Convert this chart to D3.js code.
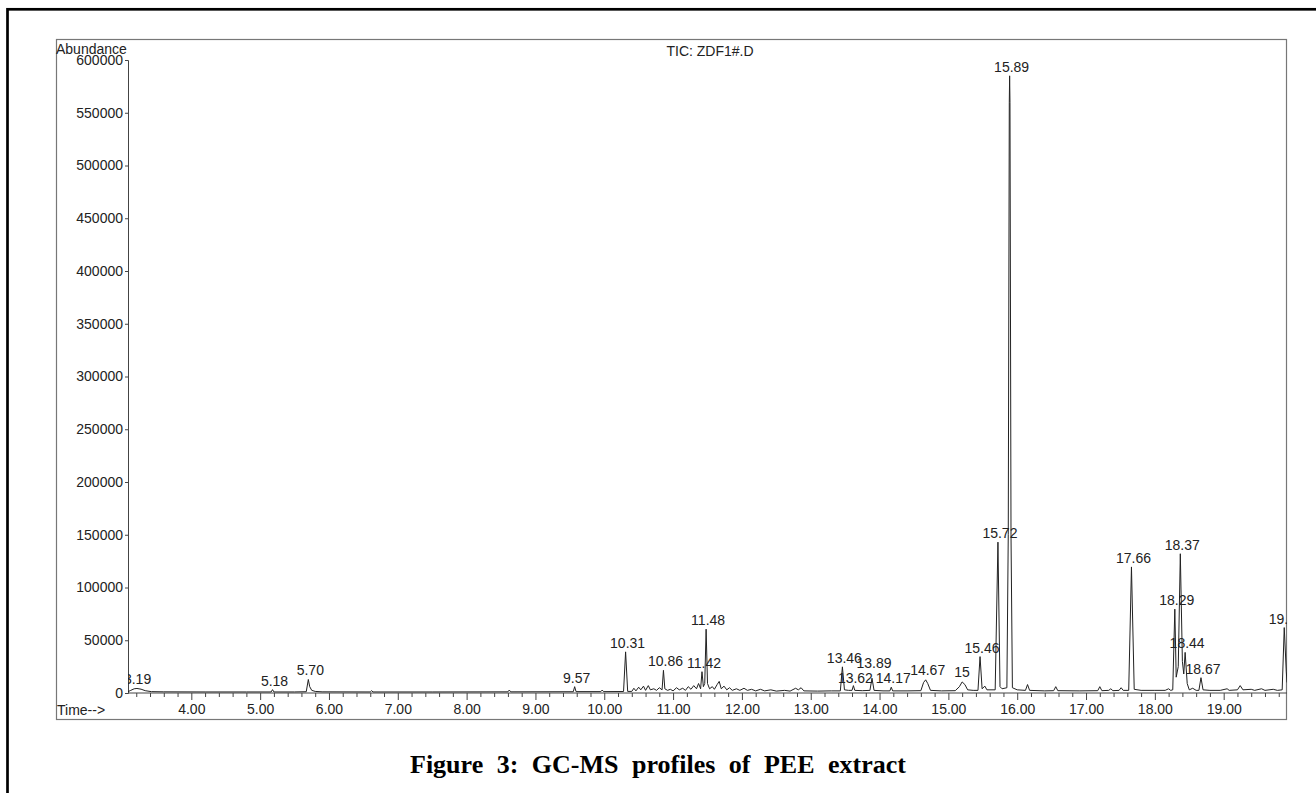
<!DOCTYPE html>
<html>
<head>
<meta charset="utf-8">
<script src="https://cdn.jsdelivr.net/npm/d3@7"></script>
<style>
  body { margin: 0; background: #fff; }
  text { font-family: Arial, "Liberation Sans", sans-serif; }
</style>
</head>
<body>
<div id="chart-area"></div>
<script>
/*
*    GC-MS total ion chromatogram
*/

// x ticks (minutes) and y ticks (abundance)
var timeTicks = [4, 5, 6, 7, 8, 9, 10, 11, 12, 13, 14, 15, 16, 17, 18, 19];
var abundTicks = [0, 50000, 100000, 150000, 200000, 250000, 300000, 350000,
  400000, 450000, 500000, 550000, 600000];

// trace: [time, abundance]
var trace = [
  [3.08, 1200], [3.12, 2500], [3.17, 4000], [3.21, 4300], [3.27, 3600], [3.33, 2200],
  [3.42, 1300], [3.60, 1100], [4.20, 1000], [4.80, 1000], [5.16, 1000], [5.18, 3200],
  [5.20, 1000], [5.50, 1000], [5.67, 1200], [5.70, 12800], [5.72, 6000], [5.75, 2500],
  [5.80, 1500], [5.90, 1100], [6.60, 1000], [6.62, 2200], [6.64, 1000], [7.50, 1000],
  [8.60, 1100], [8.62, 2800], [8.64, 1100], [9.55, 1200], [9.57, 6000], [9.59, 1300],
  [9.95, 1300], [9.97, 2800], [9.99, 1300], [10.28, 1400], [10.31, 39000], [10.34, 1500],
  [10.40, 1500], [10.43, 4500], [10.46, 2000], [10.50, 5500], [10.53, 3000], [10.57, 6500],
  [10.60, 2500], [10.64, 7000], [10.67, 3000], [10.72, 4000], [10.76, 2500], [10.80, 5000],
  [10.84, 3000], [10.86, 21500], [10.88, 4000], [10.92, 2500], [10.96, 3500], [11.00, 2000],
  [11.05, 5000], [11.09, 3000], [11.14, 4500], [11.18, 2500], [11.22, 6000], [11.26, 3500],
  [11.30, 7000], [11.34, 4000], [11.37, 9000], [11.40, 4000], [11.42, 20200], [11.44, 6000],
  [11.46, 9000], [11.48, 60500], [11.50, 9000], [11.53, 4000], [11.57, 6000], [11.60, 3500],
  [11.64, 8000], [11.67, 11000], [11.70, 4000], [11.74, 6500], [11.78, 3000], [11.82, 5000],
  [11.86, 2500], [11.92, 4000], [11.97, 2500], [12.03, 4500], [12.08, 2500], [12.14, 3500],
  [12.20, 2000], [12.27, 3500], [12.33, 2000], [12.42, 3000], [12.50, 1800], [12.62, 2500],
  [12.70, 1800], [12.78, 4500], [12.82, 3000], [12.86, 5000], [12.90, 2000], [13.10, 1800],
  [13.30, 2000], [13.43, 2000], [13.46, 24800], [13.49, 3000], [13.55, 2500], [13.60, 2500],
  [13.62, 7000], [13.64, 2500], [13.75, 2200], [13.86, 2500], [13.89, 14000], [13.92, 2500],
  [14.05, 2000], [14.15, 2000], [14.17, 5500], [14.19, 2000], [14.40, 2000], [14.60, 2200],
  [14.64, 10000], [14.67, 12500], [14.70, 9000], [14.74, 2500], [14.90, 2000], [15.10, 2200],
  [15.16, 6000], [15.20, 10500], [15.24, 8000], [15.28, 3000], [15.36, 2500], [15.43, 2500],
  [15.46, 34500], [15.49, 4000], [15.53, 6500], [15.56, 3000], [15.68, 3000], [15.72, 143000],
  [15.75, 6000], [15.78, 4000], [15.85, 5000], [15.87, 150000], [15.885, 560000],
  [15.89, 585000], [15.895, 560000], [15.91, 150000], [15.93, 5000], [16.00, 3000],
  [16.12, 2500], [16.15, 8000], [16.18, 2500], [16.40, 2000], [16.53, 2200], [16.56, 6000],
  [16.59, 2200], [16.90, 2000], [17.17, 2200], [17.20, 6000], [17.23, 2200], [17.33, 2500],
  [17.36, 4000], [17.39, 2200], [17.48, 2500], [17.51, 5000], [17.54, 2500], [17.62, 2500],
  [17.66, 119500], [17.70, 3500], [17.80, 2500], [18.00, 2500], [18.15, 2500], [18.20, 4000],
  [18.23, 2500], [18.26, 3000], [18.29, 79500], [18.31, 15000], [18.34, 25000], [18.37, 132000],
  [18.40, 30000], [18.42, 18000], [18.44, 38500], [18.47, 9000], [18.50, 3000], [18.55, 4500],
  [18.60, 2500], [18.64, 2500], [18.67, 14500], [18.70, 3000], [18.80, 2500], [18.95, 2500],
  [19.05, 4000], [19.08, 2500], [19.20, 3000], [19.24, 7000], [19.28, 3000], [19.40, 3500],
  [19.45, 2500], [19.55, 4000], [19.60, 2500], [19.72, 3500], [19.78, 2500], [19.85, 3000],
  [19.88, 62000], [19.91, 20000], [19.92, 10000]
];

// retention time labels
var peakLabels = ["3.19", "5.18", "5.70", "9.57", "10.31", "10.86", "11.42", "11.48",
  "13.46", "13.62", "13.89", "14.17", "14.67", "15", "15.46", "15.72", "15.89",
  "17.66", "18.29", "18.37", "18.44", "18.67", "19.88"];
var peakTimes = [3.19, 5.18, 5.70, 9.57, 10.31, 10.86, 11.42, 11.48,
  13.46, 13.62, 13.89, 14.17, 14.67, 15.17, 15.46, 15.72, 15.89,
  17.66, 18.29, 18.37, 18.44, 18.67, 19.88];
var peakAbund = [4300, 2500, 12800, 6000, 39000, 21500, 20200, 60500,
  24800, 6000, 20000, 5500, 13000, 11000, 34500, 143000, 585000,
  119500, 79500, 132000, 38500, 14500, 62000];

var svg = d3.select("#chart-area")
  .append("svg")
  .attr("width", 1316)
  .attr("height", 793);

svg.append("rect")
  .attr("width", 1316)
  .attr("height", 793)
  .attr("fill", "#fff");

// outer frame of the figure
svg.append("rect")
  .attr("x", 7.5)
  .attr("y", 9.3)
  .attr("width", 1400)
  .attr("height", 900)
  .attr("fill", "none")
  .attr("stroke", "#000")
  .attr("stroke-width", 2.7);

// instrument print box
svg.append("rect")
  .attr("x", 56.5)
  .attr("y", 39.5)
  .attr("width", 1230)
  .attr("height", 680)
  .attr("fill", "none")
  .attr("stroke", "#777")
  .attr("stroke-width", 1.2);

var x = d3.scaleLinear()
  .domain([3.08, 19.92])
  .range([128, 1287]);

var y = d3.scaleLinear()
  .domain([0, 600000])
  .range([693, 60]);

svg.append("clipPath")
  .attr("id", "plot-clip")
  .append("rect")
  .attr("x", 128)
  .attr("y", 40)
  .attr("width", 1159)
  .attr("height", 660);

// y axis
var yAxis = d3.axisLeft(y)
  .tickValues(abundTicks)
  .tickSize(3)
  .tickPadding(2)
  .tickFormat(d3.format("d"));

var gy = svg.append("g")
  .attr("transform", "translate(128,0)")
  .call(yAxis);
gy.select(".domain").attr("stroke", "#444");
gy.selectAll(".tick line").attr("stroke", "#444");
gy.selectAll("text")
  .attr("font-size", 14)
  .attr("fill", "#222")
  .attr("font-family", "Arial, 'Liberation Sans', sans-serif");

// x axis: minor ticks every 0.2 min, major every minute
var minor = d3.range(16, 100).map((i) => i / 5).filter((t) => Math.abs(t - Math.round(t)) > 0.01);

var gxMinor = svg.append("g")
  .attr("transform", "translate(0,693)")
  .call(d3.axisBottom(x).tickValues(minor).tickSize(4).tickFormat(""));
gxMinor.select(".domain").remove();
gxMinor.selectAll(".tick line").attr("stroke", "#444");

var gx = svg.append("g")
  .attr("transform", "translate(0,693)")
  .call(d3.axisBottom(x).tickValues(timeTicks).tickSize(7).tickPadding(4).tickFormat(d3.format(".2f")));
gx.select(".domain").attr("stroke", "#444").attr("d", "M128,0H1287");
gx.selectAll(".tick line").attr("stroke", "#444");
gx.selectAll("text")
  .attr("font-size", 14)
  .attr("fill", "#222")
  .attr("font-family", "Arial, 'Liberation Sans', sans-serif");

// chromatogram trace
var line = d3.line()
  .x((d) => x(d[0]))
  .y((d) => y(d[1]));

svg.append("path")
  .datum(trace)
  .attr("clip-path", "url(#plot-clip)")
  .attr("fill", "none")
  .attr("stroke", "#222")
  .attr("stroke-width", 1)
  .attr("d", line);

// peak labels
svg.append("g")
  .attr("clip-path", "url(#plot-clip)")
  .selectAll("text")
  .data(peakLabels)
  .enter()
  .append("text")
  .attr("x", (d, i) => x(peakTimes[i]) + 2)
  .attr("y", (d, i) => y(peakAbund[i]) - 4)
  .attr("text-anchor", "middle")
  .attr("font-size", 14)
  .attr("fill", "#222")
  .text((d) => d);

// header texts
svg.append("text")
  .attr("x", 56)
  .attr("y", 54)
  .attr("font-size", 14)
  .attr("fill", "#222")
  .text("Abundance");

svg.append("text")
  .attr("x", 710)
  .attr("y", 56)
  .attr("text-anchor", "middle")
  .attr("font-size", 14)
  .attr("fill", "#222")
  .text("TIC: ZDF1#.D");

svg.append("text")
  .attr("x", 57)
  .attr("y", 715)
  .attr("font-size", 14)
  .attr("fill", "#222")
  .text("Time-->");

// caption
svg.append("text")
  .attr("x", 658)
  .attr("y", 773)
  .attr("text-anchor", "middle")
  .attr("font-size", 26)
  .attr("font-weight", "bold")
  .attr("word-spacing", 7)
  .style("font-family", "'Liberation Serif', 'Times New Roman', serif")
  .text("Figure 3: GC-MS profiles of PEE extract");
</script>
</body>
</html>
